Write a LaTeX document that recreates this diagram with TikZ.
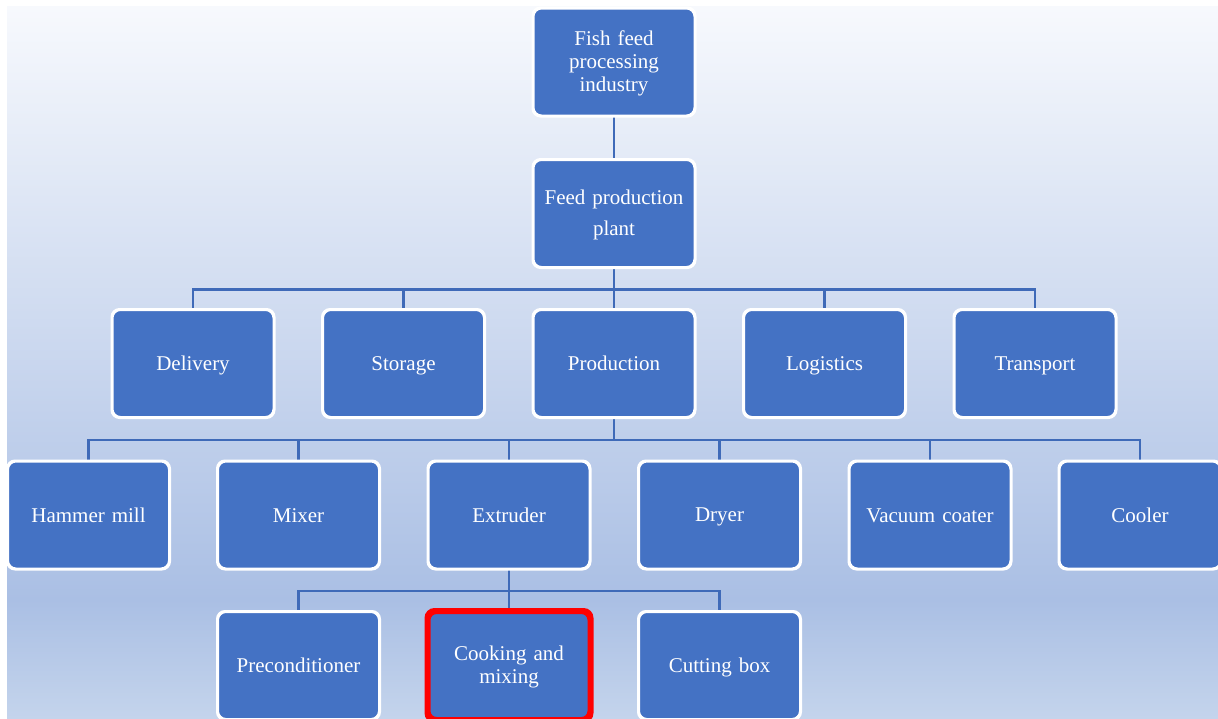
\documentclass[tikz,border=0pt]{standalone}
\usepackage{fontspec}
\setmainfont{Liberation Serif}
\definecolor{boxblue}{HTML}{4472C4}
\definecolor{linkblue}{HTML}{3F6AB8}
\definecolor{bgtop}{HTML}{F7F9FD}
\definecolor{bgmid}{HTML}{AABFE4}
\definecolor{bgbot}{HTML}{C4D4EC}
% invisible rule that fixes the height of the first and depth of the last text line
\newcommand{\linestrut}{\vrule height 18pt depth 4pt width 0pt}
\tikzset{
  unit box/.style={draw=white, line width=2pt, fill=boxblue, rounded corners=8pt,
    minimum width=161pt, minimum height=107pt, inner sep=2pt,
    text=white, align=center, text width=150pt,
    font=\fontsize{21pt}{23pt}\selectfont,
    execute at begin node=\linestrut, execute at end node=\linestrut},
  marked/.style={draw=red, line width=4pt},
  link/.style={draw=linkblue, line width=2.5pt}
}
\begin{document}
\begin{tikzpicture}[x=1pt, y=-1pt]
\useasboundingbox (0,0) rectangle (1218,718);
\clip (0,0) rectangle (1218,718);
\fill[white] (0,0) rectangle (1218,718);
\shade[top color=bgtop, bottom color=bgmid] (7,6) rectangle (1218,600);
\shade[top color=bgmid, bottom color=bgbot] (7,599.5) rectangle (1218,718);

% levels 1 and 2
\node[unit box] (industry) at (614,62) {Fish feed\\processing\\industry};
\node[unit box, font=\fontsize{21pt}{31pt}\selectfont] (plant) at (614,213.5) {Feed production\\plant};

% level 3
\node[unit box] (delivery)   at (193,363.5)  {Delivery};
\node[unit box] (storage)    at (403.5,363.5) {Storage};
\node[unit box] (production) at (614,363.5)  {Production};
\node[unit box] (logistics)  at (824.5,363.5) {Logistics};
\node[unit box] (transport)  at (1035,363.5) {Transport};

% level 4
\node[unit box] (hammer)   at (88.5,515)  {Hammer mill};
\node[unit box] (mixer)    at (298.5,515) {Mixer};
\node[unit box] (extruder) at (509,515)   {Extruder};
\node[unit box] (dryer)    at (719.5,515) {Dryer};
\node[unit box] (coater)   at (930,515)   {Vacuum coater};
\node[unit box] (cooler)   at (1140,515)  {Cooler};

% level 5
\node[unit box] (precond) at (298.5,665.5) {Preconditioner};
\node[unit box, marked] (cooking) at (509,665.5) {Cooking and\\mixing};
\node[unit box] (cutting) at (719.5,665.5) {Cutting box};

% connectors
\draw[link] (industry.south) -- (plant.north);
\foreach \c in {delivery,storage,production,logistics,transport}
  \draw[link] (plant.south) -- ++(0,21.5) -| (\c.north);
\foreach \c in {hammer,mixer,extruder,dryer,coater,cooler}
  \draw[link] (production.south) -- ++(0,22) -| (\c.north);
\foreach \c in {precond,cooking,cutting}
  \draw[link] (extruder.south) -- ++(0,21.5) -| (\c.north);

% box outlines redrawn over the connector ends
\foreach \n in {industry,plant,delivery,storage,production,logistics,transport,
                hammer,mixer,extruder,dryer,coater,cooler,precond,cutting}
  \draw[draw=white, line width=2pt, rounded corners=8pt]
    (\n.north west) rectangle (\n.south east);
\draw[red, line width=4pt, rounded corners=8pt]
  (cooking.north west) rectangle (cooking.south east);
\end{tikzpicture}
\end{document}
